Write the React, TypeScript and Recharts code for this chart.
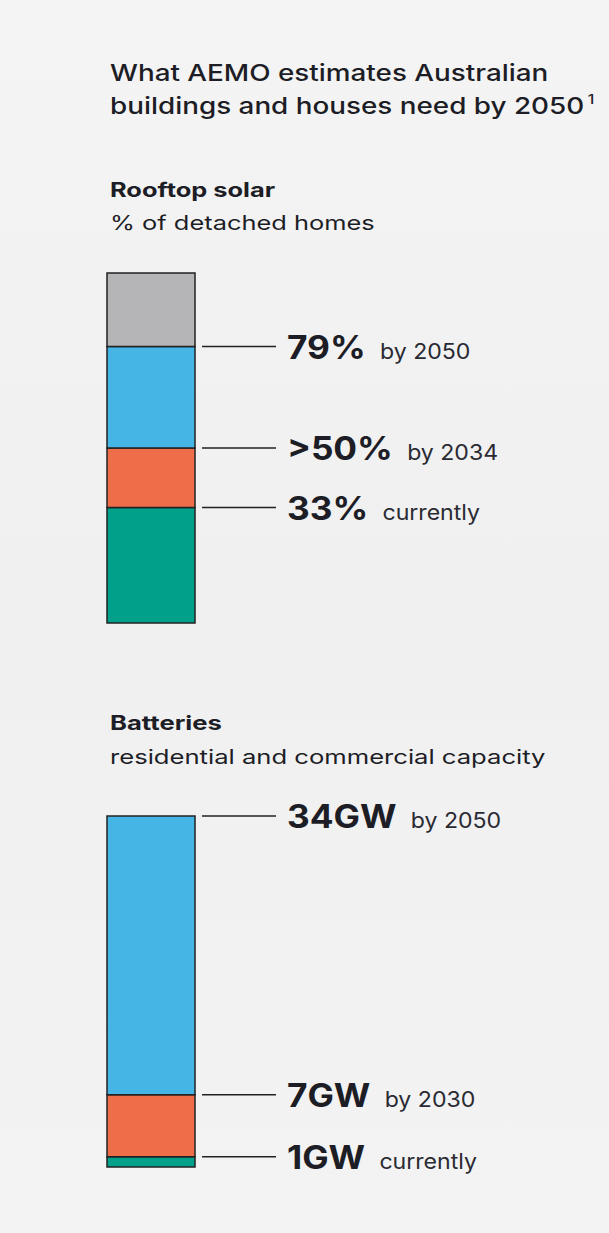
import { BarChart, Bar, XAxis, YAxis, LabelList } from "recharts";

const TITLE = ["What AEMO estimates Australian", "buildings and houses need by 2050"];

const SOLAR_LEVELS = [33, 50, 79, 100];
const SOLAR_BIG = ["33%", ">50%", "79%", ""];
const SOLAR_SMALL = ["currently", "by 2034", "by 2050", ""];
const SOLAR_COLORS = ["#00a08b", "#ef6e4a", "#45b5e6", "#b5b5b7"];

const BATTERY_LEVELS = [1, 7, 34];
const BATTERY_BIG = ["1GW", "7GW", "34GW"];
const BATTERY_SMALL = ["currently", "by 2030", "by 2050"];
const BATTERY_COLORS = ["#00a08b", "#ef6e4a", "#45b5e6"];

const FONT = "Inter, 'Noto Sans', sans-serif";
const INK = "#1d1d26";

function toRow(levels: number[]) {
    const row: Record<string, number | string> = { name: "total" };
    levels.forEach((v, i) => {
        row[`s${i}`] = v - (i > 0 ? levels[i - 1] : 0);
    });
    return [row];
}

function Leader(props: any) {
    const { x, y, width, big, small } = props;
    if (!big) return null;
    const x0 = Number(x) + Number(width);
    // the reference face is wider than Inter, so stretch the label a bit
    return (
        <g>
            <line x1={x0 + 7} x2={x0 + 81} y1={y} y2={y} stroke="#222" strokeWidth={1.5} />
            <text
                transform={`translate(${x0 + 92}, ${Number(y) + 12}) scale(1.1, 1)`}
                fill={INK}
                fontFamily={FONT}
            >
                <tspan fontSize={32} fontWeight={700}>{big}</tspan>
                <tspan dx={13} fontSize={21} fill="#2a2a33">{small}</tspan>
            </text>
        </g>
    );
}

function StackBar({ levels, big, small, colors, height }: any) {
    const data = toRow(levels);
    return (
        <BarChart
            width={600}
            height={height}
            data={data}
            margin={{ top: 30, bottom: 10, left: 107, right: 405 }}
            barCategoryGap={0}
        >
            <XAxis dataKey="name" hide />
            <YAxis hide domain={[0, levels[levels.length - 1]]} />
            {levels.map((_: number, i: number) => (
                <Bar
                    key={i}
                    dataKey={`s${i}`}
                    stackId="a"
                    fill={colors[i]}
                    stroke="#222"
                    strokeWidth={1.5}
                    isAnimationActive={false}
                >
                    <LabelList
                        dataKey={`s${i}`}
                        content={(p: any) => <Leader {...p} big={big[i]} small={small[i]} />}
                    />
                </Bar>
            ))}
        </BarChart>
    );
}

const stretch = (s: number): React.CSSProperties => ({
    transform: `scaleX(${s})`,
    transformOrigin: "0 0",
    whiteSpace: "nowrap",
});

export default function App() {
    return (
        <div
            style={{
                position: "absolute",
                left: 0,
                top: 0,
                width: 609,
                height: 1233,
                background: "linear-gradient(180deg, #f4f4f4 0%, #f0f0f0 50%, #f3f3f3 100%)",
                fontFamily: FONT,
                color: INK,
                overflow: "hidden",
            }}
        >
            <div style={{ position: "absolute", left: 110, top: 57, fontSize: 23, lineHeight: "33px", fontWeight: 500, ...stretch(1.21) }}>
                <div>{TITLE[0]}</div>
                <div>
                    {TITLE[1]}
                    <span style={{ fontSize: 13, marginLeft: 3, position: "relative", top: -10 }}>1</span>
                </div>
            </div>
            <div style={{ position: "absolute", left: 110, top: 174, fontSize: 20, lineHeight: "33px", ...stretch(1.27) }}>
                <div style={{ fontWeight: 700 }}>Rooftop solar</div>
                <div>% of detached homes</div>
            </div>
            <div style={{ position: "absolute", left: 110, top: 706, fontSize: 20, lineHeight: "34px", ...stretch(1.28) }}>
                <div style={{ fontWeight: 700 }}>Batteries</div>
                <div>residential and commercial capacity</div>
            </div>
            <div style={{ position: "absolute", left: 0, top: 243 }}>
                <StackBar levels={SOLAR_LEVELS} big={SOLAR_BIG} small={SOLAR_SMALL} colors={SOLAR_COLORS} height={390} />
            </div>
            <div style={{ position: "absolute", left: 0, top: 786 }}>
                <StackBar levels={BATTERY_LEVELS} big={BATTERY_BIG} small={BATTERY_SMALL} colors={BATTERY_COLORS} height={391} />
            </div>
        </div>
    );
}
